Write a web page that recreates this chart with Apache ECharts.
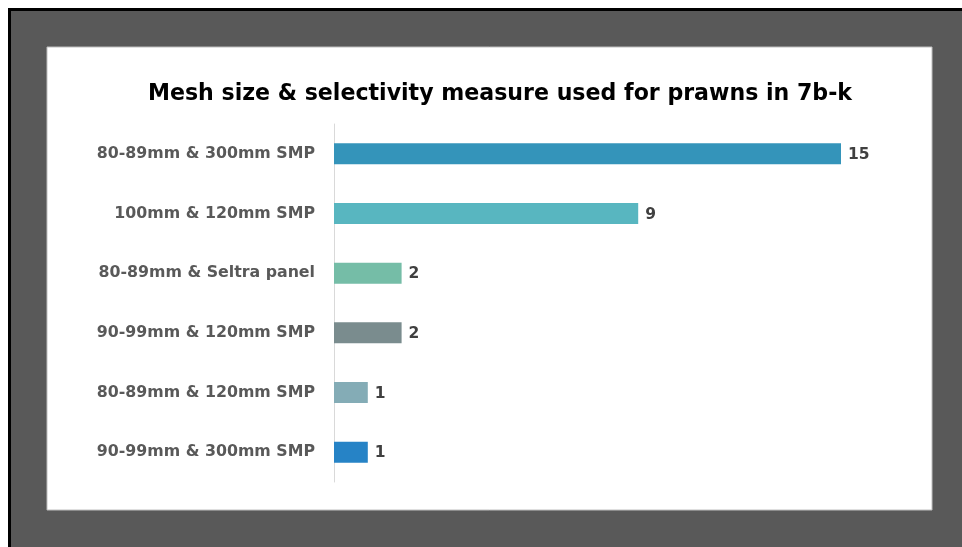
<!DOCTYPE html>
<html>
<head>
<meta charset="utf-8">
<script src="https://cdn.jsdelivr.net/npm/echarts@6/dist/echarts.min.js"></script>
<style>
  html, body { margin: 0; padding: 0; background: #ffffff; }
  #chart { width: 962px; height: 547px; }
</style>
</head>
<body>
<div id="chart"></div>
<script>
// Mesh size / selectivity combinations, listed top to bottom
const categories = [
  '80-89mm & 300mm SMP',
  '100mm & 120mm SMP',
  '80-89mm & Seltra panel',
  '90-99mm & 120mm SMP',
  '80-89mm & 120mm SMP',
  '90-99mm & 300mm SMP'
];
const counts = [15, 9, 2, 2, 1, 1];
const barColors = ['#3494BA', '#58B6C0', '#75BDA7', '#7A8C8E', '#84ACB6', '#2683C6'];
const titleText = 'Mesh size & selectivity measure used for prawns in 7b-k';

const chart = echarts.init(document.getElementById('chart'), null, { renderer: 'canvas' });

const fontFamily = '"DejaVu Sans", "Noto Sans", sans-serif';

chart.setOption({
  backgroundColor: '#ffffff',
  animation: false,
  graphic: [
    // dark frame with a black edge on top and left
    { type: 'rect', z: -10, shape: { x: 8, y: 8, width: 970, height: 560 }, style: { fill: '#000000' } },
    { type: 'rect', z: -9, shape: { x: 11, y: 11, width: 970, height: 560 }, style: { fill: '#595959' } },
    // white plot panel
    { type: 'rect', z: -8, shape: { x: 47, y: 47, width: 885, height: 463 }, style: { fill: '#ffffff', stroke: '#bfbfbf', lineWidth: 1 } }
  ],
  title: {
    text: titleText,
    left: 495,
    top: 78,
    textAlign: 'center',
    textStyle: { fontFamily, fontWeight: 'bold', fontSize: 22.1, color: '#000000' }
  },
  grid: { left: 334, top: 124, width: 507, height: 358, containLabel: false },
  xAxis: {
    type: 'value',
    min: 0,
    max: 15,
    show: false
  },
  yAxis: {
    type: 'category',
    inverse: true,
    data: categories,
    axisLine: { show: true, lineStyle: { color: '#d9d9d9', width: 1 } },
    axisTick: { show: false },
    axisLabel: {
      margin: 19,
      color: '#595959',
      fontFamily,
      fontWeight: 'bold',
      fontSize: 15.8
    }
  },
  series: [{
    type: 'bar',
    data: counts.map((v, i) => ({ value: v, itemStyle: { color: barColors[i] } })),
    barWidth: 21,
    label: {
      show: true,
      position: 'right',
      distance: 7,
      offset: [0, 1],
      color: '#404040',
      fontFamily,
      fontWeight: 'bold',
      fontSize: 15.5
    }
  }]
});
</script>
</body>
</html>
